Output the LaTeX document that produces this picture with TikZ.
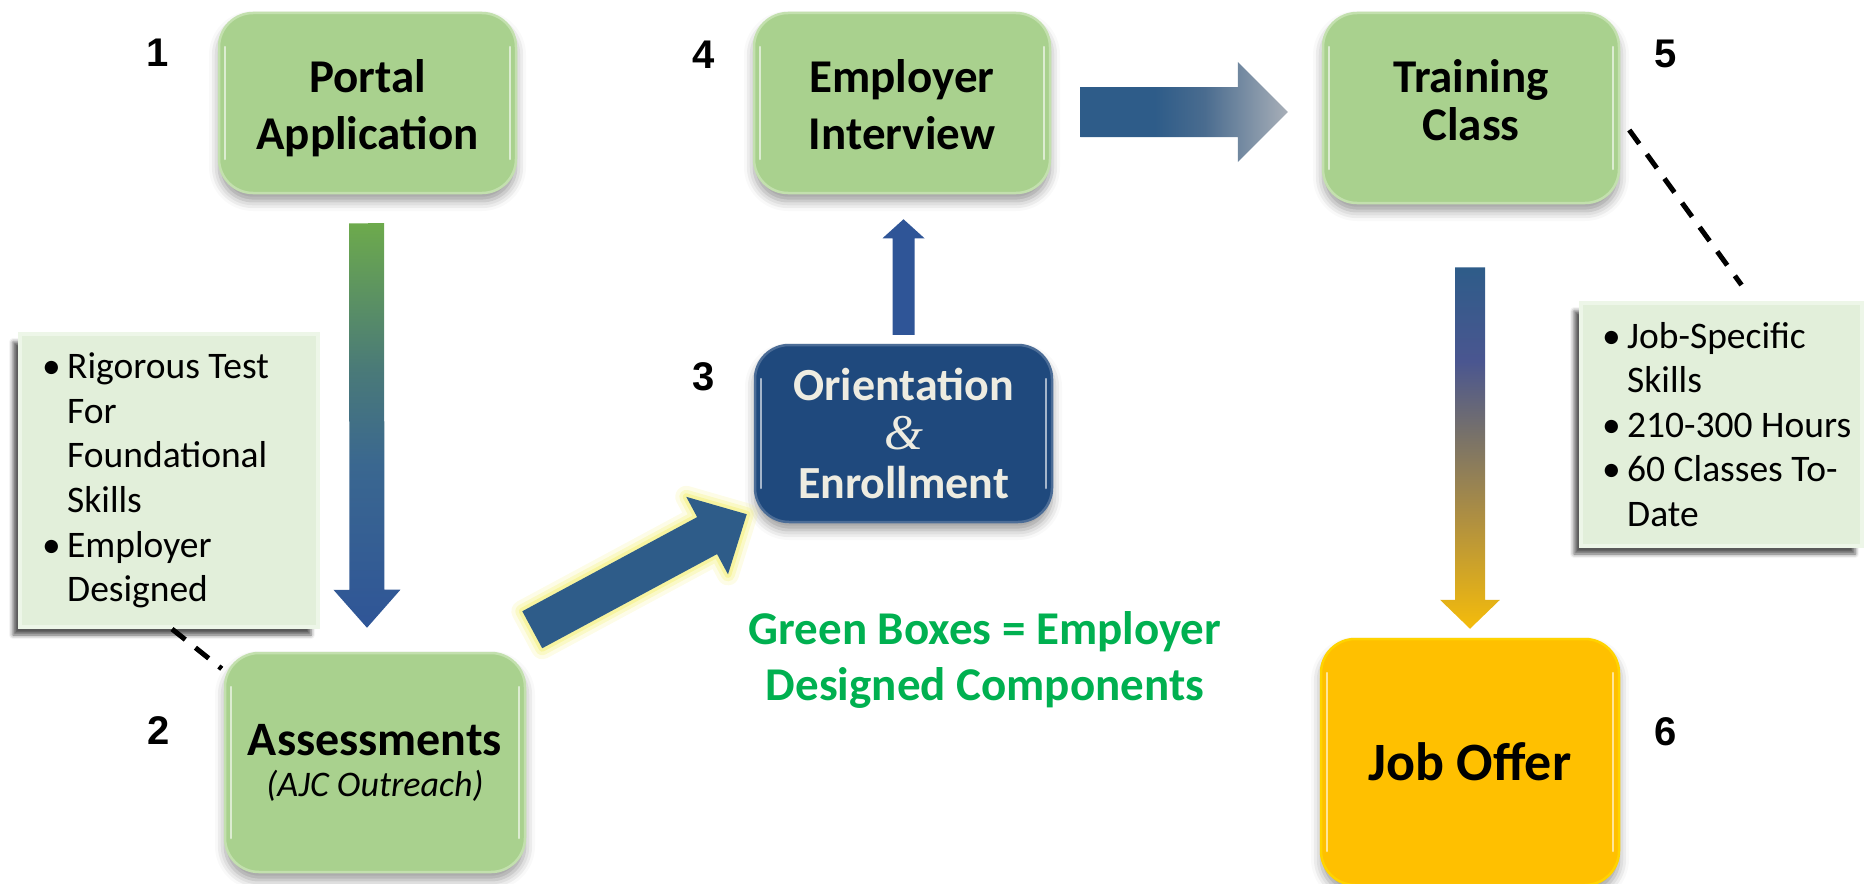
\documentclass[tikz,border=0pt]{standalone}
\usepackage{fontspec}
\setmainfont{Carlito}
\newfontfamily\numfont{Liberation Sans}
\newfontfamily\ampfont{Liberation Serif}
\usetikzlibrary{calc,shadows.blur}

\definecolor{boxgreen}{HTML}{A9D18E}
\definecolor{boxgreenedge}{HTML}{C3E0AE}
\definecolor{notegreen}{HTML}{E2EFDA}
\definecolor{noteedge}{HTML}{EDF6E8}
\definecolor{navy}{HTML}{1F497D}
\definecolor{amber}{HTML}{FFC000}
\definecolor{steel}{HTML}{2E5C89}
\definecolor{royal}{HTML}{2F5597}
\definecolor{leafgreen}{HTML}{6DAA4C}
\definecolor{teal1}{HTML}{4A7A78}
\definecolor{teal2}{HTML}{3A6790}
\definecolor{slate}{HTML}{4A6C8F}
\definecolor{silver}{HTML}{A8AFB8}
\definecolor{violet1}{HTML}{4A5690}
\definecolor{dun}{HTML}{77716A}
\definecolor{ochre}{HTML}{B09040}
\definecolor{gold}{HTML}{F5BC0A}
\definecolor{legendgreen}{HTML}{00B050}
\definecolor{glow}{HTML}{F4F07A}
\definecolor{cream}{HTML}{EEECE1}

% gradients for the block arrows
\pgfdeclareverticalshading{greenblue}{100bp}{color(0bp)=(royal); color(25bp)=(royal);
  color(45bp)=(teal2); color(57bp)=(teal1); color(75bp)=(leafgreen); color(100bp)=(leafgreen)}
\pgfdeclareverticalshading{blueamber}{100bp}{color(0bp)=(gold); color(25bp)=(gold);
  color(40bp)=(ochre); color(52bp)=(dun); color(62bp)=(violet1); color(75bp)=(steel); color(100bp)=(steel)}
\pgfdeclarehorizontalshading{bluegray}{100bp}{color(0bp)=(steel); color(25bp)=(steel);
  color(43bp)=(steel); color(55bp)=(slate); color(75bp)=(silver); color(100bp)=(silver)}

% block arrow: #1 options, #2 tail, #3 tip, #4 shaft half width, #5 head half width, #6 head length
\newcommand\blockarrow[6]{%
  \path[#1] let \p1=(#2), \p2=(#3),
    \n1={veclen(\x2-\x1,\y2-\y1)},
    \n2={(\x2-\x1)/\n1}, \n3={(\y2-\y1)/\n1}, \n4={\n1-#6} in
    ({\x1+#4*(\n3)*1pt},{\y1-#4*(\n2)*1pt})
    -- ({\x1+(\n4)*(\n2)*1pt+#4*(\n3)*1pt},{\y1+(\n4)*(\n3)*1pt-#4*(\n2)*1pt})
    -- ({\x1+(\n4)*(\n2)*1pt+#5*(\n3)*1pt},{\y1+(\n4)*(\n3)*1pt-#5*(\n2)*1pt})
    -- (\p2)
    -- ({\x1+(\n4)*(\n2)*1pt-#5*(\n3)*1pt},{\y1+(\n4)*(\n3)*1pt+#5*(\n2)*1pt})
    -- ({\x1+(\n4)*(\n2)*1pt-#4*(\n3)*1pt},{\y1+(\n4)*(\n3)*1pt+#4*(\n2)*1pt})
    -- ({\x1-#4*(\n3)*1pt},{\y1+#4*(\n2)*1pt}) -- cycle;}

\newcommand\itm[1]{\makebox[25pt][l]{\textbullet}#1}
\newcommand\cnt[1]{\hspace*{25pt}#1}

\tikzset{
  gloss/.style={path picture={
    \draw[white, opacity=0.6, line width=2.5pt, line cap=round]
      ([xshift=6pt,yshift=-34pt]path picture bounding box.north west) --
      ([xshift=6pt,yshift=34pt]path picture bounding box.south west);
    \draw[white, opacity=0.6, line width=2.5pt, line cap=round]
      ([xshift=-6pt,yshift=-34pt]path picture bounding box.north east) --
      ([xshift=-6pt,yshift=34pt]path picture bounding box.south east);}},
  stage/.style={rectangle, rounded corners=34pt, inner sep=0pt, align=center,
    fill=boxgreen, draw=boxgreenedge, line width=2.5pt, gloss,
    font=\fontsize{47}{57}\selectfont\bfseries,
    blur shadow={shadow xshift=0pt, shadow yshift=-8pt, shadow blur radius=10pt, shadow opacity=40}},
  stagetext/.style={align=center, inner sep=0pt, font=\fontsize{47}{57}\selectfont\bfseries},
  notebox/.style={rectangle, inner sep=0pt, fill=notegreen, draw=noteedge, line width=4pt,
    blur shadow={shadow xshift=-7pt, shadow yshift=-8pt, shadow blur radius=4pt, shadow opacity=65}},
  notetext/.style={anchor=west, align=left, inner sep=0pt,
    font=\fontsize{37.5}{44.6}\selectfont},
  stepnum/.style={font=\numfont\bfseries\fontsize{40}{40}\selectfont, inner sep=0pt},
  dashline/.style={draw=black, line width=5pt, dash pattern=on 17pt off 13pt},
}

\begin{document}
\begin{tikzpicture}[x=1pt, y=-1pt]
\useasboundingbox (0,0) rectangle (1865,883);

% stage boxes
\node[stage, minimum width=297pt, minimum height=180pt] (portal) at (367.5,103) {};
\node[stagetext] (portaltext) at ($(portal.center)+(0,5)$) {Portal\\Application};
\node[stage, minimum width=296pt, minimum height=180pt] (employer) at (902,103) {};
\node[stagetext] (employertext) at ($(employer.center)+(0,2)$) {Employer\\Interview};
\node[stage, minimum width=296pt, minimum height=190pt] (training) at (1471,108) {};
\node[stagetext, font=\fontsize{47}{48}\selectfont\bfseries] (trainingtext) at ($(training.center)+(0,-8)$) {Training\\Class};
\node[stage, minimum width=300pt, minimum height=219pt, font=\fontsize{48}{41}\selectfont\bfseries] (assess) at (375,762.5)
  {Assessments\\{\fontsize{36}{41}\selectfont\mdseries\itshape (AJC Outreach)}};
\node[stage, fill=navy, draw=navy!80!white, text=cream, minimum width=297pt, minimum height=177pt,
  font=\fontsize{46}{49}\selectfont\bfseries] (orient) at (903.5,433.5)
  {Orientation\\{\ampfont\itshape\mdseries\fontsize{50}{49}\selectfont\&}\\Enrollment};
\node[stage, fill=amber, draw=amber!70!yellow, minimum width=298pt, minimum height=246pt,
  font=\fontsize{54}{60}\selectfont\bfseries] (joboffer) at (1470,762) {Job Offer};

% side notes
\node[notebox, minimum width=298pt, minimum height=293pt] (note1) at (169,480.5) {};
\node[notetext] (note1text) at ([xshift=24pt]note1.west)
  {\itm{Rigorous Test}\\\cnt{For}\\\cnt{Foundational}\\\cnt{Skills}\\\itm{Employer}\\\cnt{Designed}};
\node[notebox, minimum width=281pt, minimum height=243pt] (note2) at (1721.5,424.5) {};
\node[notetext] (note2text) at ([xshift=23pt]note2.west)
  {\itm{Job-Specific}\\\cnt{Skills}\\\itm{210-300 Hours}\\\itm{60 Classes To-}\\\cnt{Date}};

% step numbers
\node[stepnum] (n1) at (158,53) {1};
\node[stepnum] (n2) at (159,731) {2};
\node[stepnum] (n3) at (704,377) {3};
\node[stepnum] (n4) at (704,55) {4};
\node[stepnum] (n5) at (1666,54) {5};
\node[stepnum] (n6) at (1666,732) {6};

% legend
\node[align=center, text=legendgreen, font=\fontsize{47}{56}\selectfont\bfseries] (legend) at (985,660)
  {Green Boxes = Employer\\Designed Components};

% dashed callout lines
\draw[dashline] ($(note1.south)+(3,0)$) -- ($(assess.north west)+(-2,17)$);
\draw[dashline] ($(training.east)+(9,22)$) -- ($(note2.north)+(20,-16)$);

% flow arrows
\blockarrow{shade, shading=greenblue}{$(portal.south)+(-1,29)$}{$(assess.north)+(-8,-24)$}{17.5}{33.5}{38}
\blockarrow{draw=glow, line width=22pt, line join=round, opacity=0.18}{$(assess.north east)+(6,-22)$}{$(orient.south west)+(-7,-9)$}{21}{44}{45}
\blockarrow{draw=glow, line width=14pt, line join=round, opacity=0.3}{$(assess.north east)+(6,-22)$}{$(orient.south west)+(-7,-9)$}{21}{44}{45}
\blockarrow{draw=glow, line width=7pt, line join=round, opacity=0.5}{$(assess.north east)+(6,-22)$}{$(orient.south west)+(-7,-9)$}{21}{44}{45}
\blockarrow{fill=steel}{$(assess.north east)+(6,-22)$}{$(orient.south west)+(-7,-9)$}{21}{44}{45}
\blockarrow{fill=royal}{$(orient.north)+(0,-9)$}{$(employer.south)+(1.5,25)$}{11}{21}{19}
\blockarrow{shade, shading=bluegray}{$(employer.east)+(29,9)$}{$(training.west)+(-34,4)$}{25}{50}{50}
\blockarrow{shade, shading=blueamber}{$(training.south)+(-1,63)$}{$(joboffer.north)+(0,-9)$}{15}{30}{29}
\end{tikzpicture}
\end{document}
